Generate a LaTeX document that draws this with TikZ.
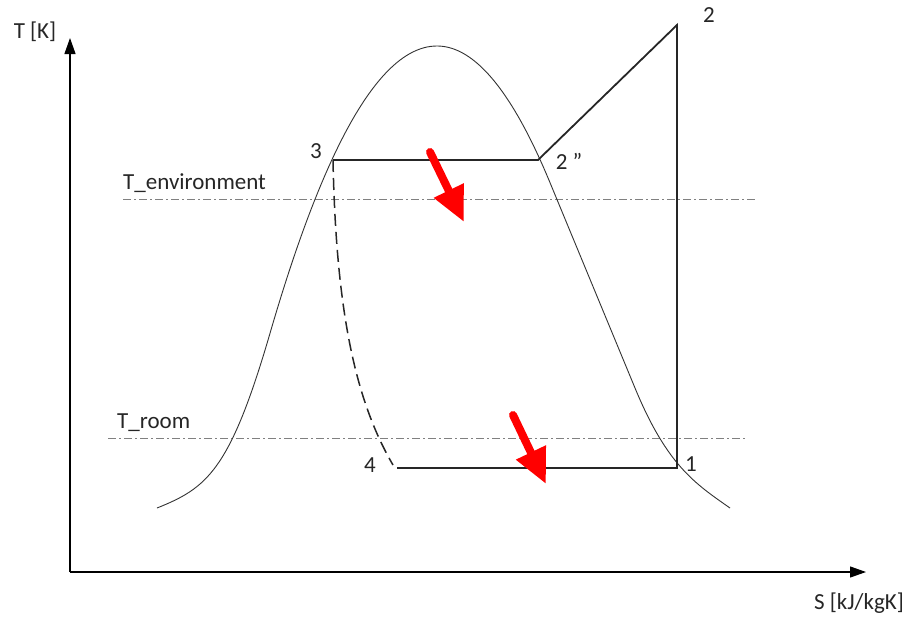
\documentclass[tikz,border=0pt]{standalone}
\usepackage{fontspec}
\setmainfont{Carlito}
\usetikzlibrary{arrows.meta}
\tikzset{
  lbl/.style={font=\fontsize{23}{26}\selectfont, text=black!85, inner sep=0pt},
  axis/.style={line width=1.2pt, -{Triangle[length=16pt,width=11pt]}},
  cycleline/.style={line width=1.8pt, black!85},
  dome/.style={line width=0.9pt, black!80},
  refline/.style={line width=0.7pt, gray, dash pattern=on 8pt off 3pt on 2pt off 3pt},
  redarrow/.style={line width=8pt, red, line cap=round, -{Triangle[length=35pt,width=31pt]}}
}
\begin{document}
\begin{tikzpicture}[x=1pt,y=-1pt]
\useasboundingbox (0,0) rectangle (911,619);
% axes
\coordinate (O) at (70,572);
\coordinate (Ytip) at (70,38);
\coordinate (Xtip) at (866,572);
\draw[axis] (O) -- (Ytip);
\draw[axis] (O) -- (Xtip);
\node[lbl] (tk) at (35,32) {T [K]};
\node[lbl] (sk) at (859,603) {S [kJ/kgK]};
% reference lines
\coordinate (ea) at (123,199); \coordinate (eb) at (755,199);
\coordinate (ra) at (108,438); \coordinate (rb) at (745,438);
\draw[refline] (ea) -- (eb);
\draw[refline] (ra) -- (rb);
\node[lbl, anchor=south west] (tenv) at (123,193) {T\_environment};
\node[lbl, anchor=south west] (troom) at (117,432) {T\_room};
% dome
\draw[dome] (157,508) .. controls (207,488) and (230,470.6) .. (270,333.3)
  -- plot[domain=270:437, samples=50] (\x, {46+1.03*((\x-437)/10)^2})
  -- plot[domain=437:549, samples=40] (\x, {46+1.07*((\x-437)/10)^2})
  -- (635,388) .. controls (667,465.4) and (695,483.5) .. (730,508);
% cycle
\coordinate (p1) at (677,468);
\coordinate (p2) at (677,25);
\coordinate (p2b) at (538,160);
\coordinate (p3) at (333,160);
\coordinate (p4) at (397,468);
\coordinate (p4d) at (393,465);
\draw[cycleline] (p3) -- (p2b) -- (p2) -- (p1) -- (p4);
\draw[cycleline, line width=1.5pt, dash pattern=on 12pt off 6pt] (p3) .. controls (336,310) and (355,400) .. (p4d);
\node[lbl] (l1) at (691,464) {1};
\node[lbl] (l2) at (709,15) {2};
\node[lbl] (l2b) at (569,161) {2 ''};
\node[lbl] (l3) at (316,151) {3};
\node[lbl] (l4) at (370,465) {4};
% red arrows
\coordinate (a1s) at (430,152); \coordinate (a1e) at (464,222);
\coordinate (a2s) at (513,415); \coordinate (a2e) at (546,484);
\draw[redarrow] (a1s) -- (a1e);
\draw[redarrow] (a2s) -- (a2e);
\end{tikzpicture}
\end{document}
